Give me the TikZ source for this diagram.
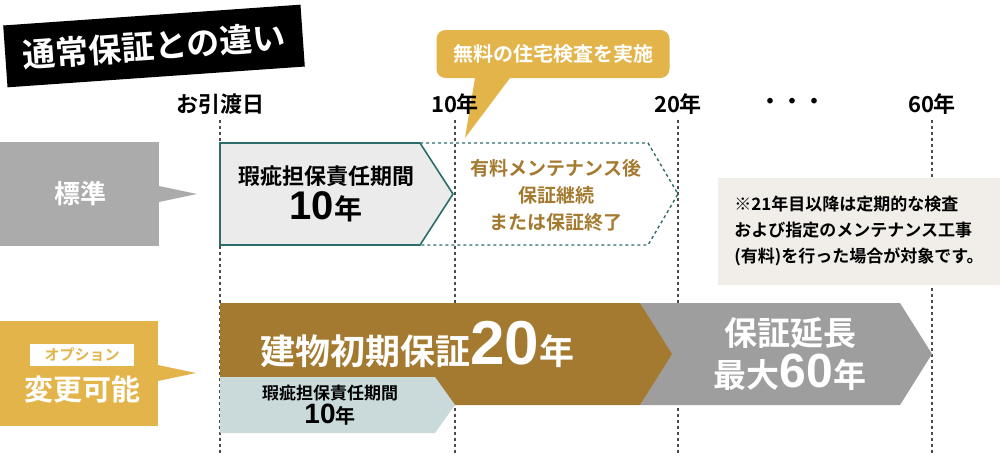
\documentclass[tikz,border=0pt]{standalone}
\usepackage{fontspec}
\setmainfont{Noto Sans CJK JP}[BoldFont={* Bold}]
\newfontfamily\numf{Liberation Sans}
\definecolor{boxgray}{HTML}{ABABAB}
\definecolor{gold}{HTML}{E3B44A}
\definecolor{brown}{HTML}{A47A30}
\definecolor{arrgray}{HTML}{9E9E9E}
\definecolor{paleblue}{HTML}{CADADB}
\definecolor{teal}{HTML}{2E6B6B}
\definecolor{notebg}{HTML}{F1EEE9}
\def\fs#1{\fontsize{#1}{#1}\selectfont}

\begin{document}
\begin{tikzpicture}[x=1pt,y=-1pt,font=\bfseries,
  lbl/.style={inner sep=0pt,align=center},
  tick/.style={dashed,line width=1.4pt,color=black!70}]
\useasboundingbox (0,0) rectangle (1003,455);
% title
\node[fill=black,text=white,rotate=4,minimum width=298,minimum height=62,lbl,font=\bfseries\fs{33}] (title) at (154,46) {通常保証との違い};
% callout
\fill[gold] (475,78) -- (465,138) -- (510,78) -- cycle;
\node[fill=gold,rounded corners=9,minimum width=233,minimum height=48,lbl,text=white,font=\bfseries\fs{20}] (call) at (553,54) {無料の住宅検査を実施};
% time axis
\foreach \x/\t in {220/お引渡日,455/10年,678/20年,932/60年}{
  \node[lbl,font=\bfseries\fs{22}] at (\x,104) {\t};
  \draw[tick] (\x,120) -- (\x,455);
}
\node[lbl,font=\bfseries\fs{22}] at (792,104) {・・・};
% standard
\fill[boxgray] (0,142) rectangle (159,246);
\fill[boxgray] (159,186) -- (197,194) -- (159,202) -- cycle;
\node[lbl,text=white,font=\bfseries\fs{26}] (std) at (80,194) {標準};
\draw[teal,dashed,line width=1.4pt] (420,143) -- (648,143) -- (678,194) -- (648,245) -- (420,245);
\draw[teal,line width=1.6pt,fill=black!8] (220,143) -- (420,143) -- (453,194) -- (420,245) -- (220,245) -- cycle;
\node[lbl,font=\bfseries\fs{22}] (std10) at (326,194) {瑕疵担保責任期間\\[4pt]{\numf\bfseries\fs{40}10}{\fs{28}年}};
\node[lbl,text=brown,font=\bfseries\fs{19}] (stdopt) at (556,195) {有料メンテナンス後\\[8pt]保証継続\\[8pt]または保証終了};
% note
\fill[notebg] (718,178) rectangle (1000,285);
\node[lbl,align=left,font=\bfseries\fs{17}] (note) at (859,231) {※21年目以降は定期的な検査\\[9pt]および指定のメンテナンス工事\\[9pt](有料)を行った場合が対象です。};
% option
\fill[gold] (0,321) rectangle (158,426);
\fill[gold] (158,365) -- (196,373) -- (158,381) -- cycle;
\node[fill=white,minimum width=104,minimum height=22,lbl,text=gold,font=\bfseries\fs{15}] (optlbl) at (82,355) {オプション};
\node[lbl,text=white,font=\bfseries\fs{29}] (opt) at (82,389) {変更可能};
\fill[arrgray] (640,303) -- (900,303) -- (932,354) -- (900,405) -- (640,405) -- (670,354) -- cycle;
\fill[brown] (220,303) -- (640,303) -- (672,354) -- (640,405) -- (220,405) -- cycle;
\fill[paleblue] (220,377) -- (435,377) -- (455,405) -- (435,433) -- (220,433) -- cycle;
\node[lbl,text=white,anchor=base west,font=\bfseries\fs{35}] (long) at (260,364) {建物初期保証{\numf\fs{62}20}年};
\node[lbl,text=white,font=\bfseries\fs{33}] (ext) at (790,354) {保証延長\\[4pt]最大{\numf\bfseries\fs{48}60}年};
\node[lbl,font=\bfseries\fs{17}] (opt10) at (330,405) {瑕疵担保責任期間\\[2pt]{\numf\bfseries\fs{28}10}{\fs{20}年}};
\end{tikzpicture}
\end{document}
